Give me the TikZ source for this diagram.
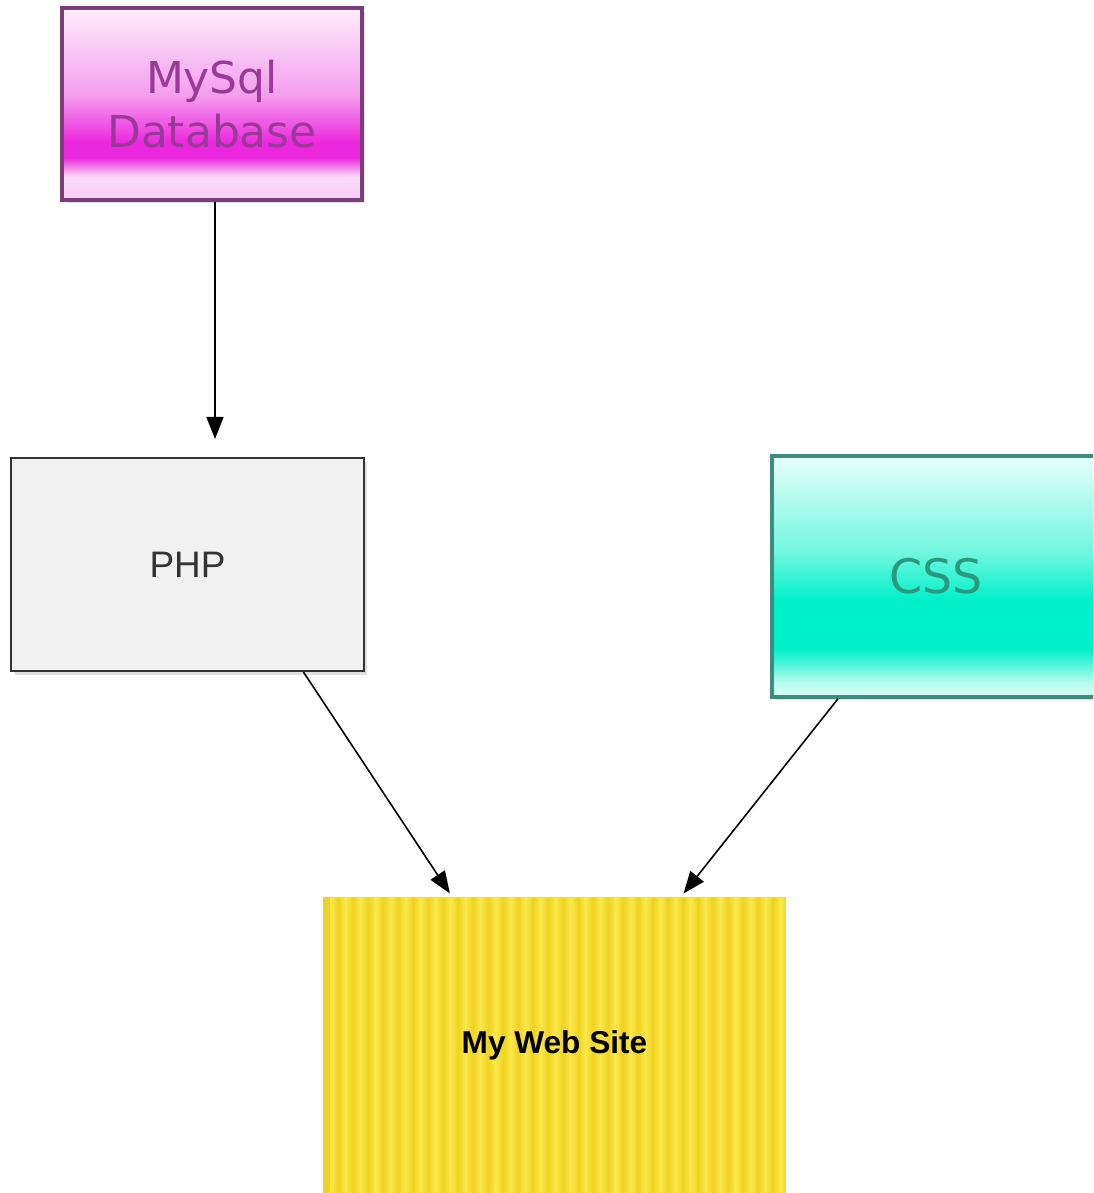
\documentclass[tikz,border=0pt]{standalone}
\usepackage{fontspec}
\usetikzlibrary{arrows.meta,shadows}
\newfontfamily\verdanafont{DejaVu Sans}
\newfontfamily\arialfont{Liberation Sans}
\definecolor{mysqlline}{HTML}{7A3F7A}
\definecolor{mysqltext}{HTML}{9A3A98}
\definecolor{mysqltop}{HTML}{FDEEFC}
\definecolor{mysqlmid}{HTML}{F49CEE}
\definecolor{mysqlmag}{HTML}{EC28DE}
\definecolor{mysqllight}{HTML}{FBDCF8}
\definecolor{mysqlbot}{HTML}{F9CCF5}
\definecolor{cssline}{HTML}{3D8C7E}
\definecolor{csstext}{HTML}{2A9A7E}
\definecolor{csstop}{HTML}{E6FFFA}
\definecolor{cssmid}{HTML}{70F6DE}
\definecolor{cssbright}{HTML}{00F0CA}
\definecolor{csslight}{HTML}{B4FCEE}
\definecolor{cssbot}{HTML}{DAFFF7}
\definecolor{phpfill}{HTML}{F1F1F1}
\definecolor{phpline}{HTML}{333333}
\definecolor{sitelight}{HTML}{FCE74A}
\definecolor{sitedark}{HTML}{EFD322}
\pgfdeclareverticalshading{mysqlshade}{100bp}{color(0bp)=(mysqlbot); color(25bp)=(mysqlbot); color(31bp)=(mysqllight); color(36bp)=(mysqlmag); color(40bp)=(mysqlmag); color(52bp)=(mysqlmid); color(75bp)=(mysqltop); color(100bp)=(mysqltop)}
\pgfdeclareverticalshading{cssshade}{100bp}{color(0bp)=(cssbot); color(25bp)=(cssbot); color(28bp)=(csslight); color(35bp)=(cssbright); color(45bp)=(cssbright); color(55bp)=(cssmid); color(75bp)=(csstop); color(100bp)=(csstop)}
\tikzset{
  box/.style={rectangle, align=center, inner sep=0pt,
    drop shadow={shadow xshift=2pt, shadow yshift=-2pt, opacity=0.25}},
  link/.style={draw=black, line width=0.9pt, -{Triangle[length=0.44cm,width=0.34cm]}}
}
\begin{document}
\begin{tikzpicture}[x=0.02cm,y=-0.02cm]
  \useasboundingbox (0,0) rectangle (1093,1193);
  \clip (0,0) rectangle (1093,1193);
  % boxes
  \node[box, shading=mysqlshade, draw=mysqlline, line width=2pt,
        minimum width=6cm, minimum height=3.84cm, text=mysqltext,
        font=\verdanafont\fontsize{25}{31}\selectfont] (mysql) at (212,104) {MySql\\Database};
  \node[box, fill=phpfill, draw=phpline, line width=1.2pt,
        minimum width=7.06cm, minimum height=4.26cm, text=phpline,
        font=\arialfont\fontsize{21}{25}\selectfont] (php) at (187.5,564.5) {PHP};
  \node[box, shading=cssshade, draw=cssline, line width=2pt,
        minimum width=6.56cm, minimum height=4.82cm, text=csstext,
        font=\verdanafont\fontsize{27}{32}\selectfont] (css) at (936,576.5) {CSS};
  \node[rectangle, fill=sitedark, minimum width=9.26cm, minimum height=5.92cm,
        font=\arialfont\bfseries\fontsize{18}{22}\selectfont,
        path picture={
          \foreach \i in {0,...,30} {
            \shade[left color=sitedark, right color=sitelight]
              ([xshift=\i*0.3cm]path picture bounding box.south west) rectangle ++(0.15cm,5.92cm);
            \shade[left color=sitelight, right color=sitedark]
              ([xshift=\i*0.3cm+0.15cm]path picture bounding box.south west) rectangle ++(0.15cm,5.92cm);
          }
        }] (site) at (554.5,1045) {My Web Site};
  % arrows
  \draw[link, shorten >=0.36cm] ([xshift=0.06cm]mysql.south) -- ([xshift=0.06cm]mysql.south |- php.north);
  \draw[link, shorten >=0.08cm] ([xshift=2.32cm]php.south) -- ([xshift=-2.05cm]site.north);
  \draw[link, shorten >=0.08cm] ([xshift=-1.96cm]css.south) -- ([xshift=2.53cm]site.north);
\end{tikzpicture}
\end{document}
